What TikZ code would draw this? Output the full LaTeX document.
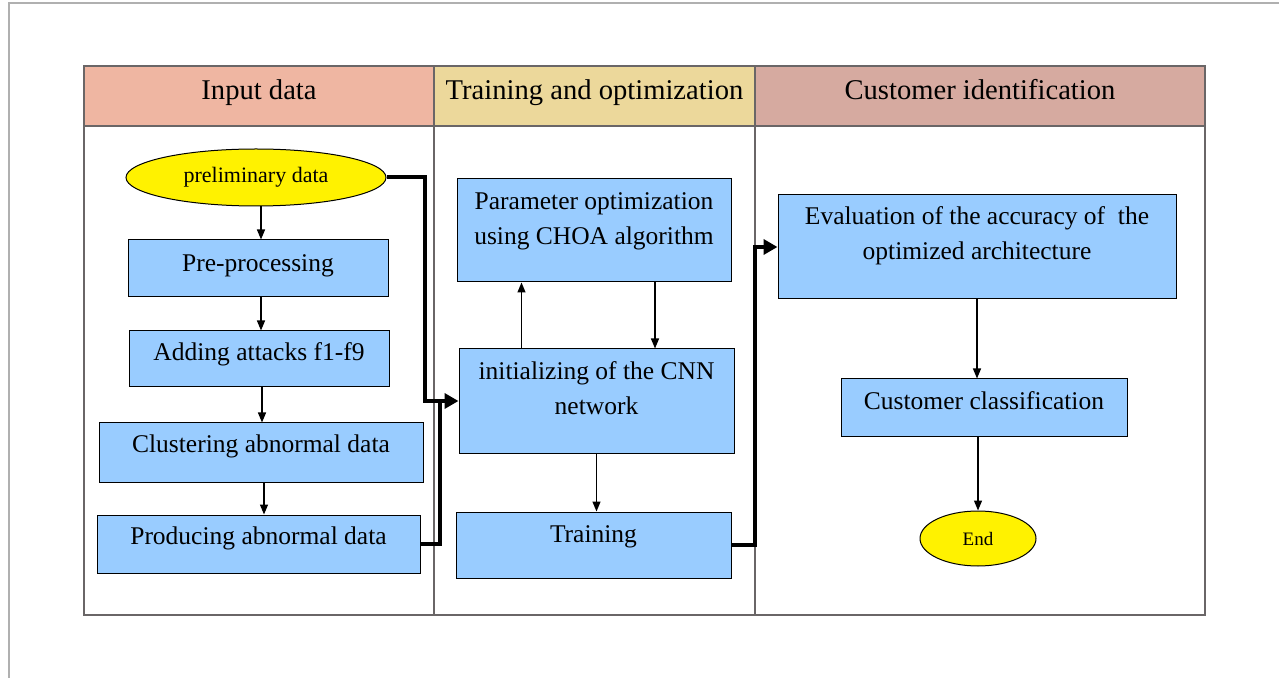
\documentclass[tikz,border=0pt]{standalone}
\usepackage{fontspec}
\setmainfont{Liberation Serif}
\usepackage{tikz}
\usetikzlibrary{arrows.meta,shapes.geometric,calc}
\definecolor{boxblue}{HTML}{99CCFF}
\definecolor{rule}{HTML}{6A6667}
\definecolor{frame}{HTML}{B0B0B0}
\definecolor{headA}{HTML}{EFB6A2}
\definecolor{headB}{HTML}{ECD89B}
\definecolor{headC}{HTML}{D6AAA0}

\begin{document}
\begin{tikzpicture}[x=0.5pt,y=-0.5pt,
  box/.style={draw=black,line width=0.5pt,fill=boxblue,inner sep=0pt,align=center,
    font=\fontsize{12.75}{17.5}\selectfont,text height=8.7pt,text depth=7pt},
  twoline/.style={text height=26.2pt,text depth=#1},
  oval/.style={ellipse,draw=black,line width=0.5pt,fill=yellow,inner sep=0pt},
  head/.style={draw=rule,line width=1pt,inner sep=0pt,minimum height=30pt,
    font=\fontsize{14.3}{17}\selectfont,text height=10pt,text depth=6.5pt},
  flow/.style={-{Triangle[length=5pt,width=4pt]},line width=0.65pt},
  feed/.style={-{Triangle[length=7pt,width=7.5pt]},line width=2pt}]
  \useasboundingbox (0,0) rectangle (1279,678);
  \draw[frame,line width=0.75pt] (9,678) -- (9,3) -- (1279,3);

  % table with three lanes
  \draw[rule,line width=1pt] (84,66) rectangle (1205,615);
  \foreach \x in {434,755} \draw[rule,line width=1pt] (\x,66) -- (\x,615);
  \node[head,fill=headA,minimum width=175pt]   (hdA) at (259,96)   {Input data};
  \node[head,fill=headB,minimum width=160.5pt] (hdB) at (594.5,96) {Training and optimization};
  \node[head,fill=headC,minimum width=225pt]   (hdC) at (980,96)   {Customer identification};

  % input lane
  \node[oval,minimum width=130pt,minimum height=28.5pt,font=\fontsize{11}{13}\selectfont]
    (prelim) at (256,177.5) {preliminary data};
  \node[box,minimum width=130pt,minimum height=28.5pt,text depth=5.8pt] (pre)  at (258,268.5) {Pre-processing};
  \node[box,minimum width=130pt,minimum height=28pt]     (attk) at (259,359)   {Adding attacks f1-f9};
  \node[box,minimum width=162pt,minimum height=29.5pt,text depth=8.5pt] (clus) at (261,452.5) {Clustering abnormal data};
  \node[box,minimum width=161.5pt,minimum height=29pt,text depth=8.3pt] (prod) at (258.5,544) {Producing abnormal data};

  % training lane
  \node[box,twoline=12.3pt,minimum width=137pt,minimum height=51.5pt]
    (param) at (594,230.5) {Parameter optimization\\using CHOA algorithm};
  \node[box,twoline=12.8pt,minimum width=137.5pt,minimum height=52pt]
    (init) at (596.5,401) {initializing of the CNN\\network};
  \node[box,minimum width=137.5pt,minimum height=33pt,text depth=11.3pt] (train) at (593.5,545) {Training};

  % identification lane
  \node[box,twoline=13.8pt,minimum width=199pt,minimum height=52pt]
    (eval) at (977,247) {Evaluation of the accuracy of~ the\\optimized architecture};
  \node[box,minimum width=143pt,minimum height=28.5pt,text depth=6.8pt] (cust) at (984,407.5) {Customer classification};
  \node[oval,minimum width=58pt,minimum height=27.5pt,font=\fontsize{9.5}{11}\selectfont]
    (end) at (978,538.5) {End};

  \coordinate (jA) at (425,401);
  \coordinate (jB) at (440,401);
  \coordinate (jC) at (755,247);

  \draw[flow] ($(pre.north |- prelim.south)+(3,0)$) -- ($(pre.north)+(3,0)$);
  \foreach \a/\b in {pre/attk,attk/clus,clus/prod}
    \draw[flow] ($(\a.south)+(3,0)$) -- ($(\a.south |- \b.north)+(3,0)$);
  \draw[flow] ($(param.south)+(61,0)$) -- ($(param.south |- init.north)+(61,0)$);
  \draw[flow] ($(init.north)+(-75,0)$) -- ($(init.north |- param.south)+(-75,0)$);
  \draw[flow] (init.south) -- (init.south |- train.north);
  \draw[flow] (eval.south) -- (eval.south |- cust.north);
  \draw[flow] (end.north |- cust.south) -- (end.north);

  \draw[feed,-] (prod.east) -| (jB);
  \draw[feed] (prelim.east) -| (jA) -- (init.west);
  \draw[feed] (train.east) -| (jC) -- (eval.west);
\end{tikzpicture}
\end{document}
